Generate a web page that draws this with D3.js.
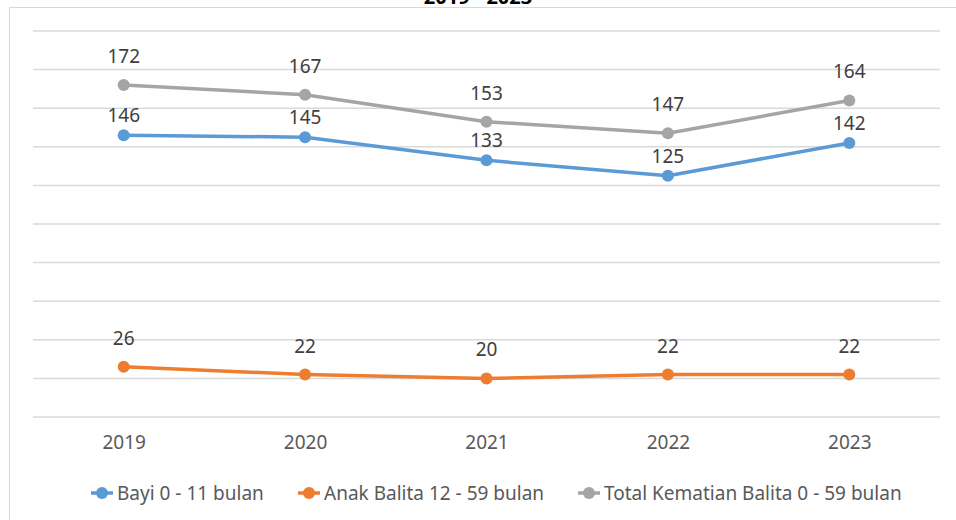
<!DOCTYPE html>
<html>
  <head>
    <script src="https://d3js.org/d3.v7.min.js"></script>
    <style>
      body { margin: 0; background: #fff; }
      text { font-family: "Noto Sans", sans-serif; }
    </style>
  </head>
  <body>
    <svg class="chart" width="956" height="520"></svg>
  </body>
  <script>
    var years = ["2019", "2020", "2021", "2022", "2023"];
    var bayi = [146, 145, 133, 125, 142];
    var anak = [26, 22, 20, 22, 22];
    var total = [172, 167, 153, 147, 164];
    var gridTicks = [0, 20, 40, 60, 80, 100, 120, 140, 160, 180, 200];

    var series = [
      {name: "Bayi 0 - 11 bulan", values: bayi, color: "#5B9BD5", labelGap: 13},
      {name: "Anak Balita 12 - 59 bulan", values: anak, color: "#ED7D31", labelGap: 22},
      {name: "Total Kematian Balita 0 - 59 bulan", values: total, color: "#A5A5A5", labelGap: 22}
    ];

    var svg = d3.select(".chart");

    // chart area border
    svg.append("rect")
      .attr("x", 9.5).attr("y", 7.5)
      .attr("width", 960).attr("height", 530)
      .attr("fill", "none")
      .attr("stroke", "#d9d9d9");

    // title, cut off by the top edge like in the original
    svg.append("text")
      .attr("x", 478).attr("y", 4)
      .attr("text-anchor", "middle")
      .attr("font-size", 20).attr("font-weight", "bold")
      .attr("fill", "#000")
      .text("2019 - 2023");

    var x = d3.scalePoint().domain(years).range([33, 940]).padding(0.5);
    var y = d3.scaleLinear().domain([0, 200]).range([417, 31]);

    svg.append("g")
      .selectAll("line")
      .data(gridTicks).enter().append("line")
      .attr("x1", 33).attr("x2", 940)
      .attr("y1", function(d) {return y(d)})
      .attr("y2", function(d) {return y(d)})
      .attr("stroke", "#d9d9d9")
      .attr("stroke-width", 1.5);

    var xAxis = svg.append("g")
      .attr("transform", "translate(0,417)")
      .call(d3.axisBottom(x).tickSize(0).tickPadding(19));
    xAxis.select(".domain").remove();
    xAxis.selectAll("text")
      .attr("font-size", 19)
      .attr("fill", "#595959")
      .style("font-family", "Noto Sans, sans-serif");

    var line = d3.line()
      .x(function(d, i) {return x(years[i])})
      .y(function(d) {return y(d)});

    series.forEach(function(s) {
      svg.append("path")
        .datum(s.values)
        .attr("d", line)
        .attr("fill", "none")
        .attr("stroke", s.color)
        .attr("stroke-width", 3.5)
        .attr("stroke-linejoin", "round");

      svg.append("g").selectAll("circle")
        .data(s.values).enter().append("circle")
        .attr("cx", function(d, i) {return x(years[i])})
        .attr("cy", function(d) {return y(d)})
        .attr("r", 6)
        .attr("fill", s.color);

      svg.append("g").selectAll("text")
        .data(s.values).enter().append("text")
        .attr("x", function(d, i) {return x(years[i])})
        .attr("y", function(d) {return y(d) - s.labelGap})
        .attr("text-anchor", "middle")
        .attr("font-size", 19)
        .attr("fill", "#404040")
        .text(function(d) {return d});
    });

    // legend
    var legendX = [102, 309, 589];
    var legend = svg.append("g");
    series.forEach(function(s, i) {
      var g = legend.append("g").attr("transform", "translate(" + legendX[i] + ",493)");
      g.append("line")
        .attr("x1", -11).attr("x2", 11)
        .attr("stroke", s.color).attr("stroke-width", 3.5);
      g.append("circle").attr("r", 6).attr("fill", s.color);
      g.append("text")
        .attr("x", 15).attr("y", 7)
        .attr("font-size", 19)
        .attr("fill", "#595959")
        .text(s.name);
    });
  </script>
</html>
